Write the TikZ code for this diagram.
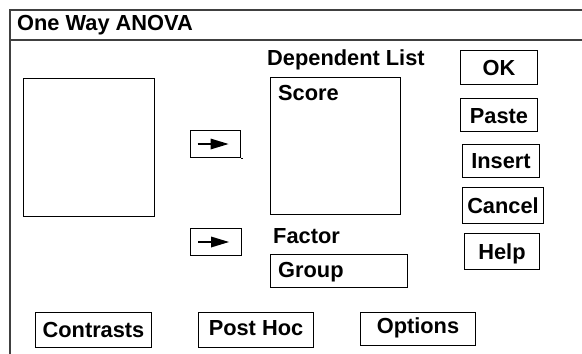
\documentclass[tikz,border=0pt]{standalone}
\usepackage{fontspec}
\setmainfont{Liberation Sans}
\begin{document}
\begin{tikzpicture}[x=1pt,y=-1pt,
  every node/.style={font=\fontsize{21.8}{25}\selectfont\bfseries, inner sep=0pt},
  btn/.style={draw, line width=1pt, anchor=north west},
  lbl/.style={anchor=base west},
  ctr/.style={anchor=base},
  frame/.style={draw=black!75, line width=1.6pt}]
\useasboundingbox (0,0) rectangle (582,354);
\fill[white] (0,0) rectangle (582,354);
% outer frame
\draw[frame] (10,354) -- (10,10) -- (582,10);
\draw[frame] (10,40) -- (582,40);
\node[lbl] (title) at (17,30) {One Way ANOVA};
% source list
\node[btn, minimum width=131, minimum height=138] (src) at (23,78) {};
% dependent list
\node[lbl] (deplbl) at (267,65) {Dependent List};
\node[btn, minimum width=130, minimum height=137] (dep) at (270,77) {};
\node[lbl] (score) at (278,100) {Score};
% factor
\node[lbl] (faclbl) at (273,243) {Factor};
\node[btn, minimum width=137, minimum height=33] (grp) at (270,254) {};
\node[lbl] (group) at (278,277) {Group};
% arrow buttons
\node[btn, minimum width=50, minimum height=27] (arr1) at (190,130) {};
\draw[line width=1pt] (arr1.south east) -- ++(2,0);
\node[btn, minimum width=51, minimum height=27] (arr2) at (190,228) {};
\foreach \b in {arr1,arr2}{
  \draw[line width=1.4pt] ([xshift=-18pt]\b.center) -- ([xshift=-4pt]\b.center);
  \fill ([xshift=-5pt,yshift=-5.5pt]\b.center) -- ([xshift=13pt]\b.center) -- ([xshift=-5pt,yshift=5.5pt]\b.center) -- cycle;
}
% right buttons
\node[btn, minimum width=77, minimum height=34] (ok) at (460,50) {};
\node[ctr] (okt) at (ok.center |- 0,75) {OK};
\node[btn, minimum width=77, minimum height=33] (paste) at (460,98) {};
\node[ctr] (pastet) at (paste.center |- 0,123) {Paste};
\node[btn, minimum width=77, minimum height=33] (insert) at (462,144) {};
\node[ctr] (insertt) at (insert.center |- 0,168) {Insert};
\node[btn, minimum width=81, minimum height=36] (cancel) at (462,187) {};
\node[ctr] (cancelt) at (cancel.center |- 0,213) {Cancel};
\node[btn, minimum width=75, minimum height=36] (help) at (464,233) {};
\node[ctr] (helpt) at (help.center |- 0,259) {Help};
% bottom buttons
\node[btn, minimum width=116, minimum height=35] (contr) at (35,312) {};
\node[ctr] (contrt) at (contr.center |- 0,337) {Contrasts};
\node[btn, minimum width=115, minimum height=35] (posthoc) at (198,312) {};
\node[ctr] (posthoct) at (posthoc.center |- 0,335) {Post Hoc};
\node[btn, minimum width=115, minimum height=33] (opts) at (360,312) {};
\node[ctr] (optst) at (opts.center |- 0,333) {Options};
\end{tikzpicture}
\end{document}
